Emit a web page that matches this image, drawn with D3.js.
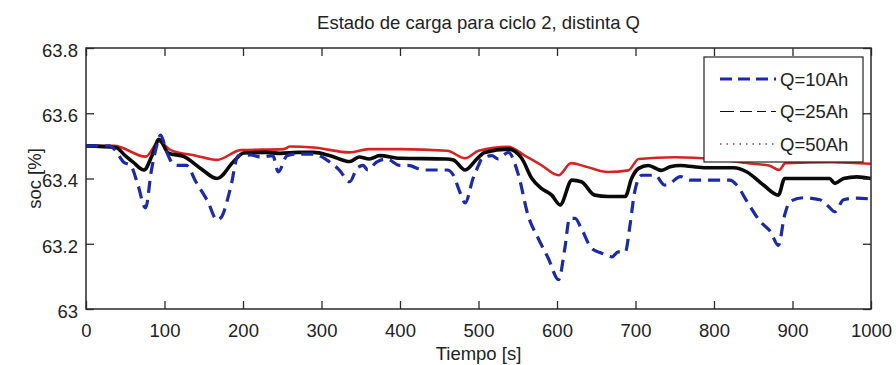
<!DOCTYPE html>
<html>
<head>
<meta charset="utf-8">
<script src="https://cdn.jsdelivr.net/npm/d3@7"></script>
<style>
  html, body { margin: 0; padding: 0; background: #fff; }
  svg { display: block; font-family: "Liberation Sans", Arial, sans-serif; }
</style>
</head>
<body>
<svg id="chart" width="896" height="365"></svg>
<script>
// State of charge (soc, %) over time for cycle 2, three battery capacities
const title = "Estado de carga para ciclo 2, distinta Q";
const xLabel = "Tiempo [s]";
const yLabel = "soc [%]";

const xTicks = [0, 100, 200, 300, 400, 500, 600, 700, 800, 900, 1000];
const yTicks = [63, 63.2, 63.4, 63.6, 63.8];
const yTickLabels = ["63", "63.2", "63.4", "63.6", "63.8"];

const seriesNames = ["Q=10Ah", "Q=25Ah", "Q=50Ah"];

// Q = 10 Ah
const timeQ10 = [0, 30, 36, 48, 57, 65, 76, 83, 89, 95, 103, 110, 116, 128, 140, 155, 167, 172, 184, 194,
  210, 222, 238, 245, 256, 269, 290, 306, 323, 336, 345, 353, 359, 370, 383, 400, 410, 430, 460, 468,
  476, 483, 493, 500, 504, 517, 525, 538, 551, 563, 576, 589, 602, 610, 616, 623, 631, 644, 657, 670,
  678, 687, 693, 699, 708, 725, 737, 744, 757, 770, 820, 829, 842, 859, 872, 882, 890, 897, 914, 935,
  946, 954, 965, 982, 1000];
const socQ10 = [63.50, 63.50, 63.49, 63.45, 63.44, 63.39, 63.31, 63.42, 63.49, 63.533, 63.48, 63.447, 63.44, 63.44, 63.39, 63.33, 63.273, 63.28, 63.37, 63.47,
  63.472, 63.466, 63.47, 63.42, 63.47, 63.475, 63.475, 63.458, 63.425, 63.39, 63.43, 63.44, 63.426, 63.45, 63.46, 63.44, 63.44, 63.426, 63.426, 63.41,
  63.36, 63.325, 63.40, 63.44, 63.46, 63.47, 63.46, 63.48, 63.41, 63.288, 63.217, 63.155, 63.09, 63.186, 63.278, 63.278, 63.247, 63.186, 63.171, 63.16,
  63.175, 63.175, 63.257, 63.36, 63.41, 63.41, 63.38, 63.385, 63.406, 63.395, 63.395, 63.38, 63.33, 63.268, 63.237, 63.195, 63.288, 63.33, 63.341, 63.335,
  63.314, 63.298, 63.335, 63.34, 63.337];

// Q = 25 Ah
const timeQ25 = [0, 38, 50, 60, 74, 84, 93, 105, 125, 146, 167, 188, 201, 230, 247, 270, 290, 311, 336, 348,
  361, 374, 400, 459, 468, 483, 498, 508, 538, 555, 568, 580, 593, 604, 619, 631, 648, 665, 687, 695,
  704, 716, 733, 744, 757, 787, 825, 842, 863, 882, 890, 905, 947, 954, 965, 982, 1000];
const socQ25 = [63.50, 63.495, 63.47, 63.45, 63.426, 63.47, 63.52, 63.478, 63.467, 63.431, 63.40, 63.452, 63.478, 63.48, 63.477, 63.48, 63.48, 63.47, 63.452, 63.466,
  63.46, 63.47, 63.462, 63.46, 63.457, 63.426, 63.46, 63.48, 63.49, 63.462, 63.40, 63.37, 63.35, 63.319, 63.395, 63.39, 63.349, 63.345, 63.345, 63.40,
  63.431, 63.44, 63.425, 63.436, 63.44, 63.433, 63.433, 63.42, 63.38, 63.349, 63.40, 63.40, 63.40, 63.385, 63.40, 63.405, 63.40];

// Q = 50 Ah
const timeQ50 = [0, 36, 76, 93, 108, 140, 167, 197, 252, 260, 290, 336, 360, 400, 460, 483, 500, 538, 559, 580,
  602, 618, 636, 665, 691, 704, 750, 800, 850, 870, 883, 891, 950, 1000];
const socQ50 = [63.50, 63.50, 63.467, 63.513, 63.487, 63.47, 63.457, 63.487, 63.49, 63.498, 63.495, 63.48, 63.49, 63.49, 63.485, 63.462, 63.485, 63.497, 63.47, 63.441,
  63.41, 63.447, 63.437, 63.42, 63.425, 63.46, 63.465, 63.46, 63.445, 63.44, 63.426, 63.447, 63.45, 63.445];

const svg = d3.select("#chart");
const W = 896, H = 365;
const m = { left: 86, right: 25, top: 48, bottom: 56 };
const x0 = m.left, x1 = W - m.right, y0 = m.top, y1 = H - m.bottom;

const x = d3.scaleLinear().domain([0, 1000]).range([x0, x1]);
const y = d3.scaleLinear().domain([63, 63.8]).range([y1, y0]);

const fontSize = 18.5;
const textColor = "#222";
const axisColor = "#2a2a2a";

// Title and axis labels
svg.append("text").attr("x", (x0 + x1) / 2).attr("y", 29)
  .attr("text-anchor", "middle").attr("font-size", fontSize).attr("fill", textColor).text(title);
svg.append("text").attr("x", (x0 + x1) / 2).attr("y", 360)
  .attr("text-anchor", "middle").attr("font-size", fontSize).attr("fill", textColor).text(xLabel);
svg.append("text").attr("transform", `translate(41,${(y0 + y1) / 2}) rotate(-90)`)
  .attr("text-anchor", "middle").attr("font-size", fontSize).attr("fill", textColor).text(yLabel);

// Data lines, clipped to the plot box
svg.append("clipPath").attr("id", "plotClip")
  .append("rect").attr("x", x0).attr("y", y0).attr("width", x1 - x0).attr("height", y1 - y0);
const plot = svg.append("g").attr("clip-path", "url(#plotClip)");
const line = d3.line().x(d => x(d[0])).y(d => y(d[1])).curve(d3.curveMonotoneX);
const zip = (ts, vs) => ts.map((t, i) => [t, vs[i]]);

plot.append("path").datum(zip(timeQ50, socQ50))
  .attr("d", line).attr("fill", "none").attr("stroke", "#d42424").attr("stroke-width", 2.6)
  .attr("stroke-linejoin", "round");
plot.append("path").datum(zip(timeQ25, socQ25))
  .attr("d", line).attr("fill", "none").attr("stroke", "#0a0a0a").attr("stroke-width", 3.6)
  .attr("stroke-linejoin", "round");
plot.append("path").datum(zip(timeQ10, socQ10))
  .attr("d", line).attr("fill", "none").attr("stroke", "#1c2aa6").attr("stroke-width", 3.2)
  .attr("stroke-dasharray", "12,7");

// Axes: ticks point inward on all four sides of the box
const tickLen = 8;
function styleAxis(g) {
  g.select(".domain").remove();
  g.selectAll(".tick line").attr("stroke", axisColor).attr("stroke-width", 1.3);
  g.selectAll(".tick text").attr("fill", textColor).attr("font-size", fontSize)
    .attr("font-family", "Liberation Sans, Arial, sans-serif");
}
svg.append("g").attr("transform", `translate(0,${y1})`)
  .call(d3.axisBottom(x).tickValues(xTicks).tickFormat(d3.format("d")).tickSizeInner(-tickLen).tickSizeOuter(0))
  .call(styleAxis)
  .call(g => g.selectAll(".tick text").attr("y", 28).attr("dy", 0));
svg.append("g").attr("transform", `translate(0,${y0})`)
  .call(d3.axisTop(x).tickValues(xTicks).tickFormat("").tickSizeInner(-tickLen).tickSizeOuter(0))
  .call(styleAxis);
svg.append("g").attr("transform", `translate(${x0},0)`)
  .call(d3.axisLeft(y).tickValues(yTicks).tickFormat((d, i) => yTickLabels[i]).tickSizeInner(-tickLen).tickSizeOuter(0))
  .call(styleAxis)
  .call(g => g.selectAll(".tick text").attr("x", -8).attr("dy", "0.45em"));
svg.append("g").attr("transform", `translate(${x1},0)`)
  .call(d3.axisRight(y).tickValues(yTicks).tickFormat("").tickSizeInner(-tickLen).tickSizeOuter(0))
  .call(styleAxis);

svg.append("rect").attr("x", x0).attr("y", y0).attr("width", x1 - x0).attr("height", y1 - y0)
  .attr("fill", "none").attr("stroke", axisColor).attr("stroke-width", 1.5);

// Legend
const lg = { x: 704, y: 57, w: 159, h: 105 };
const legend = svg.append("g");
legend.append("rect").attr("x", lg.x).attr("y", lg.y).attr("width", lg.w).attr("height", lg.h)
  .attr("fill", "#fff").attr("stroke", "#222").attr("stroke-width", 1.2);
const legendStyles = [
  { stroke: "#1c2aa6", width: 3.2, dash: "12,6" },
  { stroke: "#111", width: 1.2, dash: "14,6,12,5,9,5" },
  { stroke: "#7a4a4a", width: 1.3, dash: "1.5,5" }
];
seriesNames.forEach((name, i) => {
  const ly = 79 + i * 32.5;
  legend.append("line").attr("x1", 720).attr("x2", 776).attr("y1", ly).attr("y2", ly)
    .attr("stroke", legendStyles[i].stroke).attr("stroke-width", legendStyles[i].width)
    .attr("stroke-dasharray", legendStyles[i].dash);
  legend.append("text").attr("x", 780).attr("y", ly + 6.5).attr("font-size", fontSize)
    .attr("fill", textColor).text(name);
});
</script>
</body>
</html>
